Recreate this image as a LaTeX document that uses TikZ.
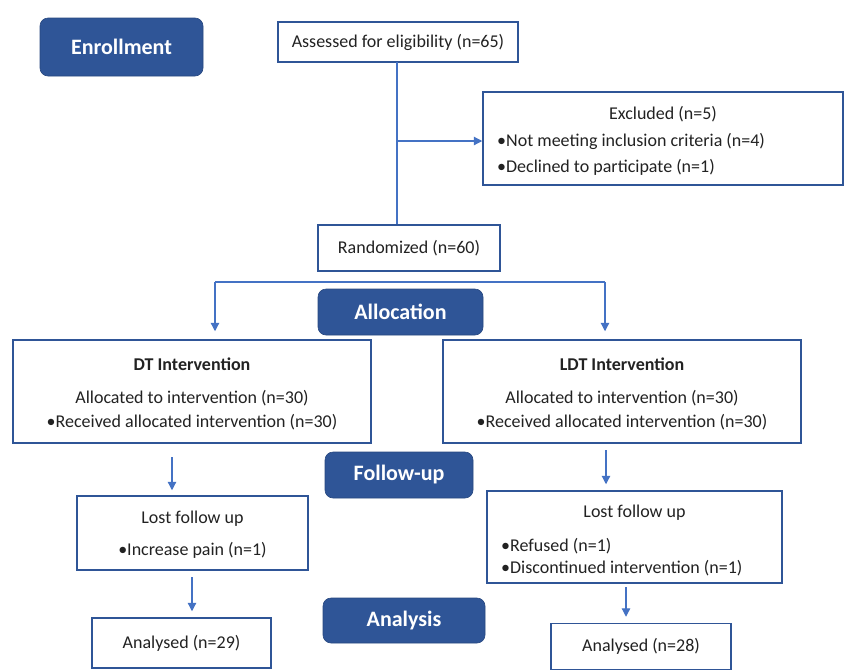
\documentclass[tikz,border=0pt]{standalone}
\usepackage{fontspec}
\setmainfont{Carlito}
\usetikzlibrary{arrows.meta}
\definecolor{hdrc}{HTML}{2F5597}
\definecolor{bordc}{HTML}{2F5597}
\definecolor{arrc}{HTML}{4472C4}
\definecolor{txtc}{HTML}{222222}
\begin{document}
\begin{tikzpicture}[x=1pt,y=-1pt,
  box/.style={draw=bordc, line width=1.5pt, fill=white, inner sep=0pt, text=txtc, font=\fontsize{18}{22}\selectfont},
  hdr/.style={fill=hdrc, draw=hdrc!85!black, line width=0.6pt, rounded corners=8pt, text=white, font=\fontsize{22}{26}\selectfont\bfseries, inner sep=0pt},
  txt/.style={text=txtc, font=\fontsize{18}{22}\selectfont, inner sep=0pt},
  ttl/.style={text=txtc, font=\fontsize{18}{22}\selectfont\bfseries, inner sep=0pt},
  arr/.style={draw=arrc, line width=1.2pt, -{Triangle[length=8.5pt,width=8.5pt]}},
  ln/.style={draw=arrc, line width=1.2pt}]
\useasboundingbox (0,0) rectangle (845,670);
\fill[white] (0,0) rectangle (845,670);

% stage headers
\node[hdr, minimum width=163pt, minimum height=58pt] (enroll) at (121.5,47) {Enrollment};
\node[hdr, minimum width=165pt, minimum height=46pt] (alloc) at (400.5,312) {Allocation};
\node[hdr, minimum width=148pt, minimum height=46pt] (follow) at (399,475) {Follow-up};
\node[hdr, minimum width=162pt, minimum height=45pt] (analysis) at (404,620.5) {Analysis};

% boxes
\node[box, minimum width=240pt, minimum height=40pt] (assess) at (398,42) {Assessed for eligibility (n=65)};
\node[box, minimum width=360pt, minimum height=93pt] (excl) at (663,138.5) {};
\node[box, minimum width=182pt, minimum height=46pt] (rand) at (409,248) {Randomized (n=60)};
\node[box, minimum width=358pt, minimum height=103pt] (dt) at (192,391.5) {};
\node[box, minimum width=358pt, minimum height=103pt] (ldt) at (622,391.5) {};
\node[box, minimum width=231pt, minimum height=74pt] (lostL) at (192.5,533) {};
\node[box, minimum width=295pt, minimum height=92pt] (lostR) at (634.5,537) {};
\node[box, minimum width=179pt, minimum height=50pt] (anaL) at (181.5,643) {Analysed (n=29)};
\node[box, minimum width=180pt, minimum height=46pt] (anaR) at (641,646.5) {Analysed (n=28)};

% texts inside boxes
\node[txt, anchor=mid] (exclT) at (663,117) {Excluded (n=5)};
\node[txt, anchor=mid west] (exclA) at (497,144) {•Not meeting inclusion criteria (n=4)};
\node[txt, anchor=mid west] (exclB) at (497,170) {•Declined to participate (n=1)};

\node[ttl, anchor=mid] (dtT) at (192,368) {DT Intervention};
\node[txt, anchor=mid] (dtA) at (192,401) {Allocated to intervention (n=30)};
\node[txt, anchor=mid] (dtB) at (192,425) {•Received allocated intervention (n=30)};

\node[ttl, anchor=mid] (ldtT) at (622,368) {LDT Intervention};
\node[txt, anchor=mid] (ldtA) at (622,401) {Allocated to intervention (n=30)};
\node[txt, anchor=mid] (ldtB) at (622,425) {•Received allocated intervention (n=30)};

\node[txt, anchor=mid] (lostLT) at (192.5,521) {Lost follow up};
\node[txt, anchor=mid] (lostLA) at (192.5,553) {•Increase pain (n=1)};

\node[txt, anchor=mid] (lostRT) at (634.5,515) {Lost follow up};
\node[txt, anchor=mid west] (lostRA) at (501,549) {•Refused (n=1)};
\node[txt, anchor=mid west] (lostRB) at (501,571) {•Discontinued intervention (n=1)};

% connectors
\coordinate (v0) at (397,62);
\draw[ln] (v0) -- (v0 |- rand.north);
\coordinate (v1) at (397,141);
\draw[arr] (v1) -- (v1 -| excl.west);

\coordinate (b1) at (215,282);
\coordinate (b2) at (605,282);
\draw[ln] (b1) -- (b2);
\draw[arr] (b1) -- ([yshift=8pt]b1 |- dt.north);
\draw[arr] (b2) -- ([yshift=8pt]b2 |- ldt.north);

\coordinate (c1) at (172,443);
\draw[arr, shorten <=14pt, shorten >=5pt] (c1) -- (c1 |- lostL.north);
\coordinate (c2) at (606,443);
\draw[arr, shorten <=7pt, shorten >=6pt] (c2) -- (c2 |- lostR.north);
\coordinate (c3) at (192,570);
\draw[arr, shorten <=7pt, shorten >=6pt] (c3) -- (c3 |- anaL.north);
\coordinate (c4) at (626,583);
\draw[arr, shorten <=4pt, shorten >=6pt] (c4) -- (c4 |- anaR.north);
\end{tikzpicture}
\end{document}
